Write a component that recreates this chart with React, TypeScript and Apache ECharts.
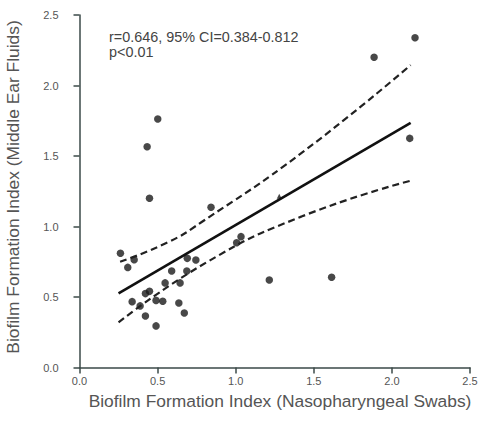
import React, { useEffect, useRef } from "react";
import * as echarts from "echarts";

const xTicks = ["0.0", "0.5", "1.0", "1.5", "2.0", "2.5"];
const yTicks = ["0.0", "0.5", "1.0", "1.5", "2.0", "2.5"];

const pointsX = [2.148, 1.886, 0.501, 0.433, 2.114, 0.448, 0.842, 0.262, 0.309, 0.35, 1.034, 1.006, 1.215, 1.614, 0.59, 0.69, 0.745, 0.687, 0.548, 0.644, 0.448, 0.422, 0.337, 0.388, 0.49, 0.533, 0.636, 0.422, 0.671, 0.49];
const pointsY = [2.339, 2.2, 1.762, 1.566, 1.625, 1.2, 1.136, 0.81, 0.71, 0.765, 0.928, 0.885, 0.62, 0.64, 0.684, 0.774, 0.762, 0.684, 0.6, 0.6, 0.54, 0.524, 0.467, 0.437, 0.476, 0.47, 0.458, 0.365, 0.386, 0.295];

const smallPointX = [1.279];
const smallPointY = [1.215];

const fitX = [0.25, 2.12];
const fitY = [0.525, 1.735];

const upperX = [0.26, 0.57, 0.78, 1.42, 2.12];
const upperY = [0.75, 0.89, 1.03, 1.52, 2.145];

const lowerX = [0.25, 0.82, 1.42, 2.12];
const lowerY = [0.32, 0.75, 1.07, 1.325];

const annotation = ["r=0.646, 95% CI=0.384-0.812", "p<0.01"];
const xTitle = "Biofilm Formation Index (Nasopharyngeal Swabs)";
const yTitle = "Biofilm Formation Index (Middle Ear Fluids)";

const FONT = "'Liberation Sans', Arial, sans-serif";
const AXIS_COLOR = "#3b4a48";
const TEXT_COLOR = "#555";

function zip(xs: number[], ys: number[]) {
  return xs.map((x, i) => [x, ys[i]]);
}

export default function App() {
  const ref = useRef<HTMLDivElement>(null);
  useEffect(() => {
    if (!ref.current) return;
    const chart = echarts.init(ref.current, null, { renderer: "svg" });
    const axisCommon = {
      type: "value" as const,
      min: 0,
      max: 2.5,
      interval: 0.5,
      splitLine: { show: false },
      axisLine: { show: true, onZero: false, lineStyle: { color: AXIS_COLOR, width: 1.5 } },
      axisTick: { show: true, inside: false, length: 6, lineStyle: { color: AXIS_COLOR, width: 1.5 } },
    };
    chart.setOption({
      animation: false,
      backgroundColor: "#fff",
      grid: { left: 79.5, right: 11, top: 15, bottom: 55.5, containLabel: false },
      xAxis: {
        ...axisCommon,
        axisLabel: {
          margin: 8,
          fontSize: 11,
          fontFamily: FONT,
          color: TEXT_COLOR,
          formatter: (v: number) => xTicks[Math.round(v / 0.5)] ?? "",
        },
      },
      yAxis: {
        ...axisCommon,
        axisLabel: {
          margin: 21,
          fontSize: 11,
          fontFamily: FONT,
          color: TEXT_COLOR,
          formatter: (v: number) => yTicks[Math.round(v / 0.5)] ?? "",
        },
      },
      graphic: [
        {
          type: "text",
          left: 109,
          top: 29,
          style: {
            text: annotation.join("\n"),
            fontSize: 14.4,
            lineHeight: 15,
            fontFamily: FONT,
            fill: "#444",
          },
        },
        {
          type: "text",
          x: 280,
          y: 401,
          style: {
            text: xTitle,
            fontSize: 17.4,
            fontFamily: FONT,
            fill: TEXT_COLOR,
            align: "center",
            verticalAlign: "middle",
          },
        },
        {
          type: "text",
          x: 13,
          y: 187,
          rotation: Math.PI / 2,
          style: {
            text: yTitle,
            fontSize: 17.4,
            fontFamily: FONT,
            fill: TEXT_COLOR,
            align: "center",
            verticalAlign: "middle",
          },
        },
      ],
      series: [
        {
          type: "line",
          data: zip(upperX, upperY),
          smooth: true,
          symbol: "none",
          lineStyle: { color: "#222", width: 2.2, type: [7, 4] },
        },
        {
          type: "line",
          data: zip(lowerX, lowerY),
          smooth: true,
          symbol: "none",
          lineStyle: { color: "#222", width: 2.2, type: [7, 4] },
        },
        {
          type: "line",
          data: zip(fitX, fitY),
          symbol: "none",
          lineStyle: { color: "#111", width: 2.6 },
        },
        {
          type: "scatter",
          data: zip(pointsX, pointsY),
          symbol: "circle",
          symbolSize: 7.5,
          itemStyle: { color: "#1a1a1a" },
        },
        {
          type: "scatter",
          data: zip(smallPointX, smallPointY),
          symbol: "triangle",
          symbolSize: 5,
          itemStyle: { color: "#1a1a1a" },
        },
      ],
    });
    return () => chart.dispose();
  }, []);
  return <div ref={ref} style={{ width: 481, height: 423, position: "absolute", left: 0, top: 0 }} />;
}
